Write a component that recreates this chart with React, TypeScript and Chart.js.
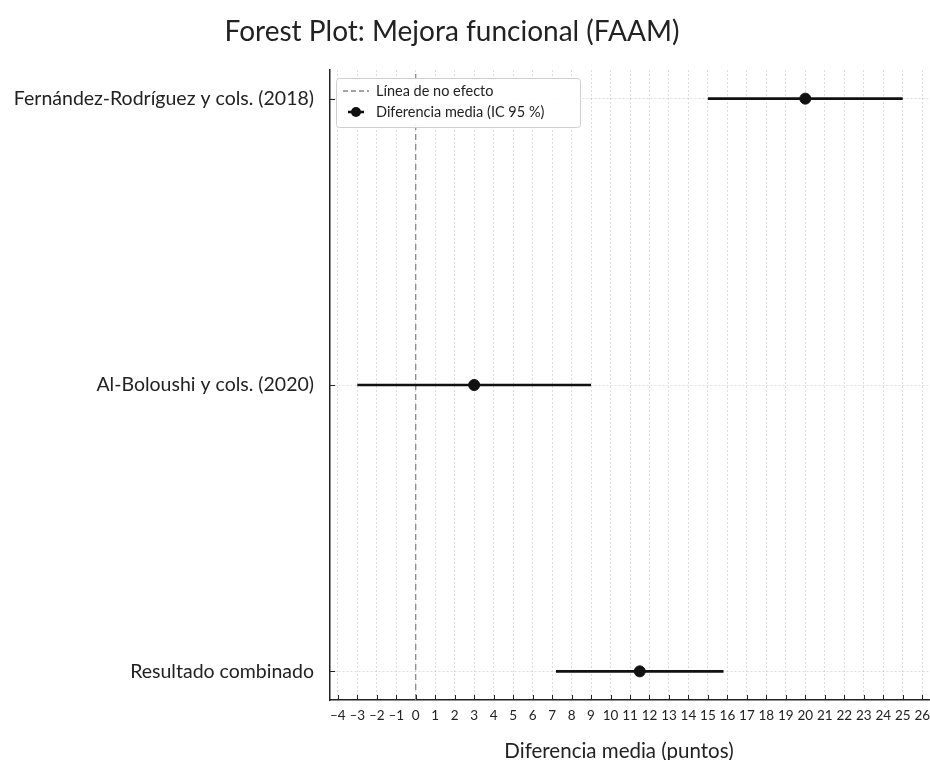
import React, { useEffect, useRef } from "react";
import { Chart, registerables } from "chart.js";

Chart.register(...registerables);

const studies = [
  "Fernández-Rodríguez y cols. (2018)",
  "Al-Boloushi y cols. (2020)",
  "Resultado combinado",
];
const meanDiff = [20, 3, 11.5];
const ciLow = [15, -3, 7.2];
const ciHigh = [25, 9, 15.8];
const xMin = -4.4;
const xMax = 26.4;
const yMin = -0.1;
const yMax = 2.1;
const titleText = "Forest Plot: Mejora funcional (FAAM)";
const xTitle = "Diferencia media (puntos)";
const legendLabels = ["Línea de no efecto", "Diferencia media (IC 95 %)"];

const FONT = "Lato, 'Open Sans', sans-serif";

export default function App() {
  const ref = useRef<HTMLCanvasElement | null>(null);
  useEffect(() => {
    if (!ref.current) return;
    const yOf = (i: number) => studies.length - 1 - i;

    const ciSets = studies.map((s, i) => ({
      type: "scatter" as const,
      label: "ci" + i,
      data: [
        { x: ciLow[i], y: yOf(i) },
        { x: ciHigh[i], y: yOf(i) },
      ],
      showLine: true,
      borderColor: "#111",
      borderWidth: 2.6,
      pointRadius: 0,
      order: 2,
    }));

    const extras = {
      id: "extras",
      afterDatasetsDraw(chart: any) {
        const ctx = chart.ctx;
        const { left, bottom, top } = chart.chartArea;
        const xs = chart.scales.x;
        const ys = chart.scales.y;
        ctx.save();
        ctx.strokeStyle = "#222";
        ctx.lineWidth = 1;
        xs.ticks.forEach((t: any) => {
          const px = Math.round(xs.getPixelForValue(t.value)) + 0.5;
          ctx.beginPath();
          ctx.moveTo(px, bottom);
          ctx.lineTo(px, bottom - 5);
          ctx.stroke();
        });
        ys.ticks.forEach((t: any) => {
          const py = Math.round(ys.getPixelForValue(t.value)) + 0.5;
          ctx.beginPath();
          ctx.moveTo(left, py);
          ctx.lineTo(left + 5, py);
          ctx.stroke();
        });
        // legend box
        const bx = left + 6, by = top + 8, bw = 244, bh = 49;
        ctx.fillStyle = "rgba(255,255,255,0.92)";
        ctx.strokeStyle = "#d0d0d0";
        ctx.lineWidth = 1;
        ctx.beginPath();
        if ((ctx as any).roundRect) (ctx as any).roundRect(bx + 0.5, by + 0.5, bw, bh, 3);
        else ctx.rect(bx + 0.5, by + 0.5, bw, bh);
        ctx.fill();
        ctx.stroke();
        const r1 = by + 13, r2 = by + 34;
        // dashed line sample
        ctx.strokeStyle = "#888";
        ctx.lineWidth = 1.3;
        ctx.setLineDash([5, 3]);
        ctx.beginPath();
        ctx.moveTo(bx + 7, r1);
        ctx.lineTo(bx + 33, r1);
        ctx.stroke();
        ctx.setLineDash([]);
        // marker sample
        ctx.strokeStyle = "#111";
        ctx.lineWidth = 2.6;
        ctx.beginPath();
        ctx.moveTo(bx + 12, r2);
        ctx.lineTo(bx + 28, r2);
        ctx.stroke();
        ctx.fillStyle = "#111";
        ctx.beginPath();
        ctx.arc(bx + 20, r2, 5, 0, Math.PI * 2);
        ctx.fill();
        ctx.fillStyle = "#222";
        ctx.font = "14.5px " + FONT;
        ctx.textBaseline = "middle";
        ctx.textAlign = "left";
        ctx.fillText(legendLabels[0], bx + 40, r1);
        ctx.fillText(legendLabels[1], bx + 40, r2);
        // titles
        ctx.textAlign = "center";
        ctx.textBaseline = "alphabetic";
        ctx.font = "28px " + FONT;
        ctx.fillText(titleText, 452, 41);
        ctx.textBaseline = "middle";
        ctx.font = "20.5px " + FONT;
        ctx.fillText(xTitle, 619, 751);
        ctx.restore();
      },
    };

    const chart = new Chart(ref.current, {
      type: "scatter",
      data: {
        datasets: [
          {
            type: "scatter",
            label: legendLabels[0],
            data: [
              { x: 0, y: yMin },
              { x: 0, y: yMax },
            ],
            showLine: true,
            borderColor: "#8a8a8a",
            borderWidth: 1.3,
            borderDash: [6, 4],
            pointRadius: 0,
            order: 3,
          },
          ...ciSets,
          {
            type: "scatter",
            label: legendLabels[1],
            data: studies.map((s, i) => ({ x: meanDiff[i], y: yOf(i) })),
            pointRadius: 5.5,
            pointBackgroundColor: "#111",
            pointBorderColor: "#111",
            order: 1,
          },
        ],
      },
      options: {
        animation: false,
        responsive: false,
        maintainAspectRatio: false,
        layout: { autoPadding: false, padding: { left: 0, right: 0, top: 70, bottom: 0 } },
        plugins: {
          legend: { display: false },
          tooltip: { enabled: false },
          title: { display: false },
        },
        scales: {
          x: {
            type: "linear",
            min: xMin,
            max: xMax,
            afterFit: (s: any) => {
              s.height = 60;
              s.paddingLeft = 0;
              s.paddingRight = 0;
            },
            ticks: {
              stepSize: 1,
              includeBounds: false,
              autoSkip: false,
              maxRotation: 0,
              padding: 8,
              color: "#222",
              font: { family: FONT, size: 13.5 },
              callback: (v: any) => (Number(v) < 0 ? "\u2013" + Math.abs(Number(v)) : String(v)),
            },
            grid: {
              color: "rgba(0,0,0,0.13)",
              drawTicks: false,
              lineWidth: 1,
            },
            border: { color: "#222", width: 1.5, dash: [2, 2] },
          },
          y: {
            type: "linear",
            min: yMin,
            max: yMax,
            afterFit: (s: any) => {
              s.width = 330;
              s.paddingTop = 0;
              s.paddingBottom = 0;
            },
            ticks: {
              stepSize: 1,
              includeBounds: false,
              padding: 16,
              color: "#222",
              font: { family: FONT, size: 19.5 },
              callback: (v: any) => {
                const i = studies.length - 1 - Number(v);
                return studies[i] ?? "";
              },
            },
            grid: {
              color: "rgba(0,0,0,0.13)",
              drawTicks: false,
              lineWidth: 1,
            },
            border: { color: "#222", width: 1.5, dash: [2, 2] },
          },
        },
      } as any,
      plugins: [extras],
    });
    return () => chart.destroy();
  }, []);

  return (
    <div style={{ position: "fixed", left: 0, top: 0, width: 930, height: 760, background: "#fff" }}>
      <canvas ref={ref} width={930} height={760} style={{ width: 930, height: 760 }} />
    </div>
  );
}
